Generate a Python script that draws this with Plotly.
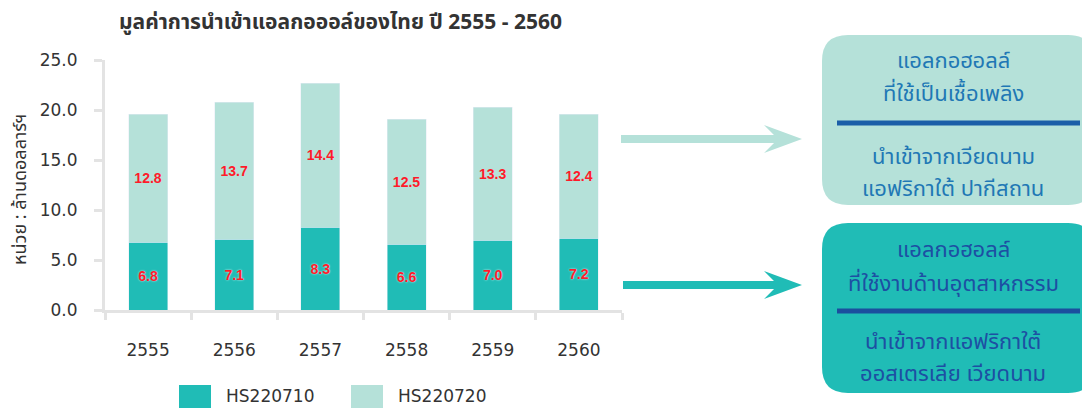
import plotly.graph_objects as go

years = ["2555", "2556", "2557", "2558", "2559", "2560"]
hs220710 = [6.8, 7.1, 8.3, 6.6, 7.0, 7.2]
hs220720 = [12.8, 13.7, 14.4, 12.5, 13.3, 12.4]
series_names = ["HS220710", "HS220720"]
title_text = "มูลค่าการนำเข้าแอลกอออล์ของไทย ปี 2555 - 2560"
yaxis_title = "หน่วย : ล้านดอลลาร์ฯ"
box1_lines = ["แอลกอฮอลล์", "ที่ใช้เป็นเชื้อเพลิง", "นำเข้าจากเวียดนาม", "แอฟริกาใต้ ปากีสถาน"]
box2_lines = ["แอลกอฮอลล์", "ที่ใช้งานด้านอุตสาหกรรม", "นำเข้าจากแอฟริกาใต้", "ออสเตรเลีย เวียดนาม"]

DARK = "#20bcb6"
LIGHT = "#b5e1d9"
RED = "#ff1a2a"
AXIS = "#e3e3e3"
FONT = "DejaVu Sans"
LABEL_FONT = "Liberation Sans"
THAI = "Noto Sans Thai, Tahoma, DejaVu Sans, sans-serif"

# the page body has an 8px margin: the figure starts at screen (8, 8)
OFF = 8
SCREEN_W, SCREEN_H = 1090, 408
W_FIG, H_FIG = SCREEN_W - OFF, SCREEN_H - OFF
# plot area in screen pixels
L, R, T, B = 105, 622, 60, 310
PW, PH = R - L, B - T


def px(x):
    return (x - L) / PW


def py(y):
    return (B - y) / PH


fig = go.Figure()
fig.add_trace(go.Bar(
    x=years, y=hs220710, name=series_names[0], marker_color=DARK,
    text=[f"{v:.1f}" for v in hs220710], textposition="inside",
    insidetextanchor="middle",
    textfont=dict(color=RED, size=14, family=LABEL_FONT, weight="bold",
                  shadow="0px 0px 2px rgba(255,255,255,0.9)"),
    showlegend=False,
))
fig.add_trace(go.Bar(
    x=years, y=hs220720, name=series_names[1], marker_color=LIGHT,
    text=[f"{v:.1f}" for v in hs220720], textposition="inside",
    insidetextanchor="middle",
    textfont=dict(color=RED, size=14, family=LABEL_FONT, weight="bold"),
    showlegend=False,
))

shapes = []
annotations = []


def rounded_rect(x0, y0, x1, y1, r, color):
    path = (
        f"M {px(x0 + r)},{py(y0)} L {px(x1 - r)},{py(y0)} "
        f"Q {px(x1)},{py(y0)} {px(x1)},{py(y0 + r)} "
        f"L {px(x1)},{py(y1 - r)} Q {px(x1)},{py(y1)} {px(x1 - r)},{py(y1)} "
        f"L {px(x0 + r)},{py(y1)} Q {px(x0)},{py(y1)} {px(x0)},{py(y1 - r)} "
        f"L {px(x0)},{py(y0 + r)} Q {px(x0)},{py(y0)} {px(x0 + r)},{py(y0)} Z"
    )
    return dict(type="path", xref="paper", yref="paper", path=path,
                fillcolor=color, line=dict(width=0), layer="below")


def arrow(x0, x1, y, color):
    out = [dict(type="line", xref="paper", yref="paper",
                x0=px(x0), x1=px(x1 - 22), y0=py(y), y1=py(y),
                line=dict(color=color, width=8))]
    path = (f"M {px(x1 - 38)},{py(y - 14)} L {px(x1)},{py(y)} "
            f"L {px(x1 - 38)},{py(y + 14)} L {px(x1 - 24)},{py(y)} Z")
    out.append(dict(type="path", xref="paper", yref="paper", path=path,
                    fillcolor=color, line=dict(width=0)))
    return out


# boxes
shapes.append(rounded_rect(822, 35, 1094, 205, 26, LIGHT))
shapes.append(rounded_rect(822, 223, 1094, 393, 26, DARK))
shapes.append(dict(type="line", xref="paper", yref="paper",
                   x0=px(837), x1=px(1080), y0=py(123), y1=py(123),
                   line=dict(color="#1b5ea8", width=5)))
shapes.append(dict(type="line", xref="paper", yref="paper",
                   x0=px(837), x1=px(1080), y0=py(311), y1=py(311),
                   line=dict(color="#1b4e9e", width=5)))
shapes += arrow(621, 802, 139, LIGHT)
shapes += arrow(623, 802, 285, DARK)

for lines, ys, col in [(box1_lines, [61, 94, 157, 189], "#1f78b5"),
                       (box2_lines, [250, 284, 342, 374], "#1d4fa3")]:
    for txt, yy in zip(lines, ys):
        annotations.append(dict(text=txt, x=px(953), y=py(yy), xref="paper", yref="paper",
                                showarrow=False, xanchor="center", yanchor="middle",
                                font=dict(family=THAI, size=22, color=col)))

# title
annotations.append(dict(text=f"<b>{title_text}</b>", x=px(117), y=py(22), xref="paper", yref="paper",
                        showarrow=False, xanchor="left", yanchor="middle",
                        font=dict(family=THAI, size=21, color="#333333")))
# y axis title
annotations.append(dict(text=yaxis_title, x=px(20), y=py(190), xref="paper", yref="paper",
                        showarrow=False, xanchor="center", yanchor="middle", textangle=-90,
                        font=dict(family=THAI, size=18, color="#333333")))

# manual legend
for i, (nm, col) in enumerate(zip(series_names, [DARK, LIGHT])):
    x0 = 179 + i * 172
    shapes.append(dict(type="rect", xref="paper", yref="paper",
                       x0=px(x0), x1=px(x0 + 32), y0=py(385), y1=py(420),
                       fillcolor=col, line=dict(width=0)))
    annotations.append(dict(text=nm, x=px(x0 + 45), y=py(396), xref="paper", yref="paper",
                            showarrow=False, xanchor="left", yanchor="middle",
                            font=dict(family=FONT, size=17, color="#333333")))

fig.update_layout(
    width=W_FIG, height=H_FIG,
    margin=dict(l=L - OFF, r=SCREEN_W - R, t=T - OFF, b=SCREEN_H - B, autoexpand=False),
    paper_bgcolor="white", plot_bgcolor="white",
    barmode="stack", bargap=0.547,
    showlegend=False,
    shapes=shapes, annotations=annotations,
)
fig.update_xaxes(
    showline=True, linecolor=AXIS, linewidth=3,
    ticks="outside", tickson="boundaries", ticklen=7, tickcolor=AXIS, tickwidth=3,
    tickfont=dict(family=FONT, size=17, color="#333333"),
    ticklabelstandoff=23, showgrid=False,
)
fig.update_yaxes(
    range=[0, 25], dtick=5, tickformat=".1f",
    showline=True, linecolor=AXIS, linewidth=3,
    ticks="outside", ticklen=8, tickcolor=AXIS, tickwidth=3,
    tickfont=dict(family=FONT, size=17, color="#333333"),
    ticklabelstandoff=13, showgrid=False, zeroline=False,
)

fig.write_html("out.html")
